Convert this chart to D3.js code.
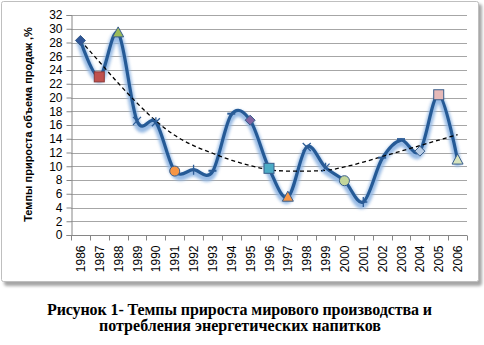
<!DOCTYPE html>
<html>
<head>
<meta charset="utf-8">
<script src="https://cdn.jsdelivr.net/npm/d3@7"></script>
<style>
  html, body { margin: 0; padding: 0; background: #fff; }
  svg { display: block; }
</style>
</head>
<body>
<svg id="chart" width="484" height="345"></svg>
<script>
// Years on the category axis
const years = ["1986","1987","1988","1989","1990","1991","1992","1993","1994","1995","1996",
               "1997","1998","1999","2000","2001","2002","2003","2004","2005","2006"];
// Growth rate of sales volume, %
const growth = [28.3, 23.0, 29.4, 16.6, 16.4, 9.3, 9.5, 9.2, 17.5, 16.7, 9.7,
                5.5, 12.8, 9.8, 7.9, 4.8, 11.1, 13.8, 12.2, 20.4, 10.9];
// Polynomial trend of the growth rate, per year
const trend = [28.3, 25.2, 22.1, 19.2, 16.6, 14.5, 13.0, 11.9, 10.9, 10.1, 9.5,
               9.3, 9.3, 9.4, 9.9, 10.6, 11.4, 12.2, 13.0, 13.8, 14.6];
// Per-point marker shapes and fills
const markerShapes = ["diamond","square","triangle","x","star","circle","plus","dash","dash",
                      "diamond","square","triangle","x","star","circle","plus","dash","dash",
                      "diamond","square","triangle"];
const markerFills = ["#2F5597","#C0504D","#9BBB59","#8064A2","#4BACC6","#F79646","#2C4D75","#2C4D75","#2C4D75",
                     "#8064A2","#4BACC6","#F79646","#8064A2","#4BACC6","#C3D69B","#2C4D75","#2C4D75","#2C4D75",
                     "#B9CDE5","#E6B9B8","#D7E4BD"];
const yTicks = d3.range(0, 33, 2);
const yTitle = "Темпы прироста объема продаж ,%";
const caption = ["Рисунок  1- Темпы прироста мирового производства и",
                 "потребления энергетических напитков"];

const svg = d3.select("#chart");
const plot = { left: 71, right: 467, top: 15, bottom: 235 };

const defs = svg.append("defs");
defs.append("filter").attr("id", "glow").attr("x", "-10%").attr("y", "-10%")
  .attr("width", "120%").attr("height", "120%")
  .append("feGaussianBlur").attr("stdDeviation", 1.8);

// Chart frame with soft shadow on the right and bottom
svg.append("rect").attr("x", 4).attr("y", 4).attr("width", 478).attr("height", 282)
  .attr("rx", 3).attr("fill", "#A6A6A6").attr("filter", "url(#glow)");
svg.append("rect").attr("x", 1.5).attr("y", 1.5).attr("width", 477).attr("height", 280)
  .attr("rx", 2).attr("fill", "#fff").attr("stroke", "#BFBFBF");

const x = d3.scaleBand().domain(years).range([plot.left, plot.right]);
const y = d3.scaleLinear().domain([0, 32]).range([plot.bottom, plot.top]);
const cx = i => x(years[i]) + x.bandwidth() / 2;

// Horizontal gridlines
svg.append("g").selectAll("line").data(yTicks.filter(d => d > 0)).join("line")
  .attr("x1", plot.left).attr("x2", plot.right)
  .attr("y1", d => Math.round(y(d)) + 0.5).attr("y2", d => Math.round(y(d)) + 0.5)
  .attr("stroke", "#A6A6A6").attr("stroke-width", 1);

// Y axis
const yAxis = svg.append("g").attr("transform", `translate(${plot.left + 0.5},0)`)
  .call(d3.axisLeft(y).tickValues(yTicks).tickSize(5).tickPadding(4));
yAxis.select(".domain").attr("stroke", "#868686");
yAxis.selectAll(".tick line").attr("stroke", "#868686");
yAxis.selectAll(".tick text").attr("font-family", "Liberation Sans, Arial, sans-serif")
  .attr("font-size", 12).attr("fill", "#000");

// X axis with ticks between categories
const xAxisG = svg.append("g").attr("transform", `translate(0,${plot.bottom + 0.5})`);
xAxisG.append("line").attr("x1", plot.left).attr("x2", plot.right)
  .attr("stroke", "#868686");
xAxisG.selectAll("line.tk").data(years.concat(["end"])).join("line").attr("class", "tk")
  .attr("x1", (d, i) => Math.round(plot.left + i * x.step()) + 0.5)
  .attr("x2", (d, i) => Math.round(plot.left + i * x.step()) + 0.5)
  .attr("y1", 0).attr("y2", 5).attr("stroke", "#868686");
xAxisG.selectAll("text").data(years).join("text")
  .attr("transform", d => `translate(${x(d) + x.bandwidth() / 2 + 4.5},10) rotate(-90)`)
  .attr("text-anchor", "end")
  .attr("font-family", "Liberation Sans, Arial, sans-serif").attr("font-size", 12)
  .text(d => d);

// Y axis title
svg.append("text")
  .attr("transform", `translate(31.5,${(22 + 227) / 2}) rotate(-90)`)
  .attr("text-anchor", "middle")
  .attr("font-family", "Liberation Sans, Arial, sans-serif").attr("font-size", 11)
  .attr("font-weight", "bold").text(yTitle);

// Smoothed series line with a soft glow underneath
const lineGen = d3.line().x((d, i) => cx(i)).y(d => y(d)).curve(d3.curveCardinal.tension(0));
svg.append("path").datum(growth).attr("d", lineGen)
  .attr("transform", "translate(0,3)")
  .attr("fill", "none").attr("stroke", "#8DB4E2").attr("stroke-width", 7)
  .attr("stroke-linecap", "round").attr("stroke-linejoin", "round")
  .attr("filter", "url(#glow)").attr("opacity", 0.9);
svg.append("path").datum(growth).attr("d", lineGen)
  .attr("fill", "none").attr("stroke", "#255A96").attr("stroke-width", 3.2)
  .attr("stroke-linecap", "round").attr("stroke-linejoin", "round");

// Trend line
const trendGen = d3.line().x((d, i) => cx(i)).y(d => y(d)).curve(d3.curveMonotoneX);
svg.append("path").datum(trend).attr("d", trendGen)
  .attr("fill", "none").attr("stroke", "#000").attr("stroke-width", 1.3)
  .attr("stroke-dasharray", "4,3");

// Point markers
const mk = svg.append("g");
growth.forEach((v, i) => {
  const px = cx(i), py = y(v), shape = markerShapes[i], fill = markerFills[i];
  const g = mk.append("g").attr("transform", `translate(${px},${py})`);
  if (shape === "diamond") {
    g.append("path").attr("d", "M0,-5L5,0L0,5L-5,0Z").attr("fill", fill).attr("stroke", "#385D8A").attr("stroke-width", 1);
  } else if (shape === "square") {
    g.append("rect").attr("x", -5).attr("y", -5).attr("width", 10).attr("height", 10)
      .attr("fill", fill).attr("stroke", i === 1 ? "#8C3836" : "#385D8A").attr("stroke-width", 1);
  } else if (shape === "triangle") {
    g.append("path").attr("d", "M0,-6L5.5,4L-5.5,4Z").attr("fill", fill).attr("stroke", "#385D8A").attr("stroke-width", 1);
  } else if (shape === "circle") {
    g.append("circle").attr("r", 5).attr("fill", fill).attr("stroke", "#385D8A").attr("stroke-width", 1);
  } else if (shape === "x") {
    g.append("path").attr("d", "M-4,-4L4,4M-4,4L4,-4").attr("stroke", "#2C5C96").attr("stroke-width", 1.3);
  } else if (shape === "star") {
    g.append("path").attr("d", "M-4,-4L4,4M-4,4L4,-4M0,-5L0,0").attr("stroke", "#2C5C96").attr("stroke-width", 1.3);
  } else if (shape === "plus") {
    g.append("path").attr("d", "M-4,0L4,0M0,-5L0,5").attr("stroke", "#2C5C96").attr("stroke-width", 1.3);
  } else if (shape === "dash") {
    g.append("path").attr("d", "M-4,-1L4,-1").attr("stroke", "#2C5C96").attr("stroke-width", 2);
  }
});

// Caption below the chart
const cap = svg.append("g").attr("font-family", "Liberation Serif, Times New Roman, serif")
  .attr("font-weight", "bold").attr("font-size", 16);
cap.append("text").attr("x", 47).attr("y", 315)
  .attr("textLength", 385).attr("lengthAdjust", "spacing").text(caption[0]);
cap.append("text").attr("x", 99).attr("y", 331)
  .attr("textLength", 282).attr("lengthAdjust", "spacing").text(caption[1]);
</script>
</body>
</html>
